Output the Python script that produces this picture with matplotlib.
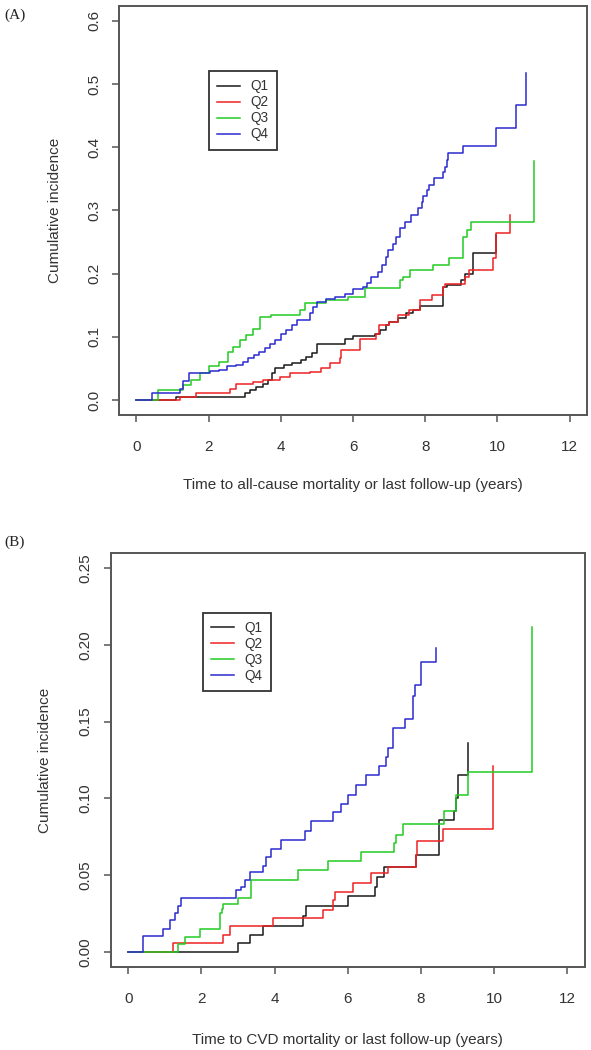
import matplotlib
matplotlib.use("Agg")
import matplotlib.pyplot as plt
from matplotlib.lines import Line2D

plt.rcParams['font.family'] = ['Liberation Sans', 'DejaVu Sans']

groups = ["Q1", "Q2", "Q3", "Q4"]
colors = ["#1a1a1a", "#ee2222", "#22cc22", "#2b2bd0"]

# (A) all-cause mortality: event times (years) and cumulative incidence
a_q1_t = [0, 1.1, 3.0, 3.15, 3.3, 3.5, 3.65, 3.75, 3.85, 4.1, 4.3, 4.55, 4.7, 4.85, 5.0, 5.77,
          5.99, 6.6, 6.75, 6.9, 7.0, 7.25, 7.48, 7.65, 7.85, 8.5, 8.6, 9.0, 9.1, 9.33, 9.95]
a_q1_y = [0, 0.005, 0.011, 0.016, 0.021, 0.026, 0.032, 0.042, 0.050, 0.055, 0.058, 0.063, 0.068,
          0.074, 0.089, 0.096, 0.101, 0.105, 0.110, 0.119, 0.124, 0.130, 0.137, 0.142, 0.148,
          0.178, 0.182, 0.190, 0.200, 0.232, 0.261]
a_q2_t = [0, 1.2, 1.66, 2.58, 2.77, 3.23, 3.5, 3.97, 4.25, 4.8, 5.1, 5.35, 5.63, 5.68, 6.18,
          6.63, 6.72, 7.0, 7.25, 7.56, 7.85, 8.2, 8.5, 8.55, 9.09, 9.22, 9.88, 9.97, 10.34]
a_q2_y = [0, 0.005, 0.0105, 0.018, 0.026, 0.029, 0.032, 0.037, 0.042, 0.045, 0.050, 0.058, 0.066,
          0.079, 0.096, 0.105, 0.118, 0.124, 0.134, 0.142, 0.158, 0.166, 0.179, 0.184, 0.194,
          0.206, 0.224, 0.264, 0.293]
a_q3_t = [0, 0.6, 1.3, 1.5, 1.75, 2.02, 2.3, 2.54, 2.68, 2.86, 3.04, 3.23, 3.41, 3.74, 4.52,
          4.66, 5.26, 5.86, 6.33, 7.29, 7.38, 7.57, 8.22, 8.67, 9.05, 9.15, 9.28, 11.02]
a_q3_y = [0, 0.016, 0.024, 0.032, 0.042, 0.053, 0.060, 0.076, 0.084, 0.095, 0.103, 0.113, 0.132,
          0.134, 0.142, 0.153, 0.158, 0.163, 0.177, 0.190, 0.195, 0.206, 0.213, 0.224, 0.258,
          0.269, 0.282, 0.378]
a_q4_t = [0, 0.42, 1.2, 1.3, 1.45, 2.03, 2.3, 2.5, 2.75, 2.95, 3.1, 3.25, 3.4, 3.55, 3.7, 3.85,
          4.0, 4.15, 4.3, 4.45, 4.8, 4.9, 5.0, 5.26, 5.5, 5.77, 6.0, 6.28, 6.4, 6.5, 6.69, 6.8,
          6.9, 6.98, 7.1, 7.2, 7.3, 7.43, 7.6, 7.8, 7.9, 7.95, 8.05, 8.1, 8.25, 8.5, 8.55, 8.6,
          8.63, 9.05, 9.97, 10.52, 10.78]
a_q4_y = [0, 0.0105, 0.018, 0.030, 0.042, 0.046, 0.048, 0.053, 0.056, 0.060, 0.066, 0.071, 0.076,
          0.082, 0.089, 0.095, 0.105, 0.110, 0.118, 0.126, 0.137, 0.147, 0.155, 0.160, 0.163,
          0.168, 0.175, 0.178, 0.185, 0.195, 0.203, 0.213, 0.227, 0.237, 0.247, 0.258, 0.272,
          0.282, 0.292, 0.303, 0.313, 0.322, 0.332, 0.340, 0.351, 0.360, 0.369, 0.380, 0.390,
          0.402, 0.430, 0.467, 0.517]

# (B) CVD mortality
b_q1_t = [0, 3.0, 3.32, 3.68, 4.77, 4.86, 6.0, 6.73, 6.8, 7.0, 7.86, 8.5, 8.9, 8.95, 9.0, 9.27]
b_q1_y = [0, 0.0054, 0.011, 0.017, 0.023, 0.030, 0.036, 0.042, 0.049, 0.055, 0.063, 0.086,
          0.092, 0.100, 0.115, 0.136]
b_q2_t = [0, 1.23, 2.6, 2.77, 3.95, 5.32, 5.59, 5.64, 6.14, 6.64, 7.1, 7.86, 7.9, 8.6, 9.96, 9.98]
b_q2_y = [0, 0.0054, 0.011, 0.017, 0.022, 0.027, 0.034, 0.039, 0.045, 0.051, 0.055, 0.063,
          0.072, 0.080, 0.099, 0.121]
b_q3_t = [0, 1.36, 1.55, 1.95, 2.5, 2.55, 2.6, 3.0, 3.36, 4.64, 5.45, 6.36, 7.27, 7.32, 7.5,
          8.64, 8.95, 9.27, 11.02]
b_q3_y = [0, 0.005, 0.0098, 0.015, 0.025, 0.028, 0.031, 0.035, 0.047, 0.053, 0.059, 0.065,
          0.071, 0.076, 0.083, 0.092, 0.102, 0.117, 0.212]
b_q4_t = [0, 0.41, 0.95, 1.14, 1.27, 1.36, 1.45, 2.95, 3.09, 3.2, 3.32, 3.68, 3.77, 3.91, 4.18,
          4.82, 5.0, 5.59, 5.82, 6.0, 6.23, 6.5, 6.86, 7.05, 7.09, 7.23, 7.55, 7.78, 7.84, 8.0, 8.41]
b_q4_y = [0, 0.0102, 0.015, 0.021, 0.025, 0.030, 0.035, 0.040, 0.042, 0.047, 0.052, 0.056,
          0.062, 0.067, 0.073, 0.079, 0.085, 0.091, 0.096, 0.102, 0.109, 0.115, 0.121, 0.127,
          0.133, 0.146, 0.152, 0.167, 0.174, 0.189, 0.198]

x_ticks = [0, 2, 4, 6, 8, 10, 12]
a_yticks = [0.0, 0.1, 0.2, 0.3, 0.4, 0.5, 0.6]
a_ylabels = ["0.0", "0.1", "0.2", "0.3", "0.4", "0.5", "0.6"]
b_yticks = [0.00, 0.05, 0.10, 0.15, 0.20, 0.25]
b_ylabels = ["0.00", "0.05", "0.10", "0.15", "0.20", "0.25"]

edge = "#555555"
txt = "#333333"


def panel(ax, series, yticks, ylabels, xlabel, leg_xy, xlab_off, ylab_off):
    for (t, y), c in zip(series, colors):
        ax.step(t, y, where="post", color=c, lw=1.1)
    ax.set_xlim(-0.48, 12.48)
    ax.set_ylim(-0.04 * yticks[-1], 1.04 * yticks[-1])
    ax.set_xticks(x_ticks)
    ax.set_xticklabels([str(v) for v in x_ticks])
    ax.set_yticks(yticks)
    ax.set_yticklabels(ylabels, rotation=90, va="center")
    ax.tick_params(length=5, width=1.1, color=edge, labelcolor=txt, labelsize=11)
    ax.tick_params(axis="x", pad=13)
    ax.tick_params(axis="y", pad=8)
    for s in ax.spines.values():
        s.set_color(edge)
        s.set_linewidth(1.4)
    ax.set_xlabel(xlabel, fontsize=11, color=txt, va="center")
    ax.xaxis.set_label_coords(0.5, xlab_off)
    ax.set_ylabel("Cumulative incidence", fontsize=11, color=txt, va="center")
    ax.yaxis.set_label_coords(ylab_off, 0.5)
    handles = [Line2D([], [], color=c, lw=1.1) for c in colors]
    leg = ax.legend(handles, groups, loc="upper left", bbox_to_anchor=leg_xy,
                    fancybox=False, edgecolor="#333333", framealpha=1, fontsize=9.8,
                    handlelength=1.7, handletextpad=0.75, labelspacing=0.15,
                    borderpad=0.6, borderaxespad=0)
    leg.get_frame().set_linewidth(1.3)
    for t in leg.get_texts():
        t.set_color(txt)


fig = plt.figure(figsize=(5.91, 10.5), dpi=100)
ax_a = fig.add_axes([0.2014, 0.6046, 0.7919, 0.3901])
ax_b = fig.add_axes([0.1873, 0.0790, 0.8025, 0.3944])

panel(ax_a, [(a_q1_t, a_q1_y), (a_q2_t, a_q2_y), (a_q3_t, a_q3_y), (a_q4_t, a_q4_y)],
      a_yticks, a_ylabels, "Time to all-cause mortality or last follow-up (years)",
      (0.192, 0.840), -0.171, -0.137)
panel(ax_b, [(b_q1_t, b_q1_y), (b_q2_t, b_q2_y), (b_q3_t, b_q3_y), (b_q4_t, b_q4_y)],
      b_yticks, b_ylabels, "Time to CVD mortality or last follow-up (years)",
      (0.194, 0.856), -0.176, -0.139)

fig.text(0.007, 1 - 15 / 1050, "(A)", family="Liberation Serif", fontsize=11, va="center", color="#222222")
fig.text(0.007, 1 - 542 / 1050, "(B)", family="Liberation Serif", fontsize=11, va="center", color="#222222")

fig.savefig("out.png", dpi=100)
